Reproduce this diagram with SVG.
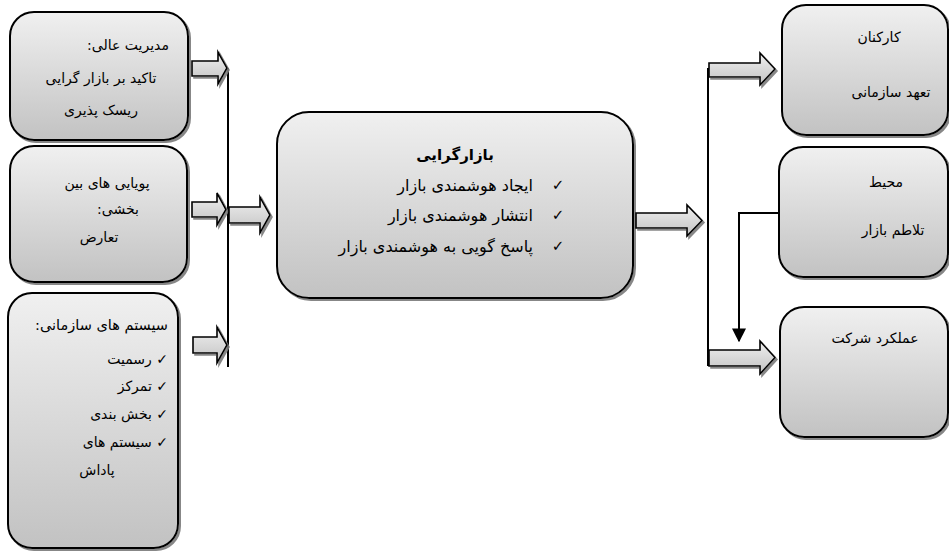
<svg xmlns="http://www.w3.org/2000/svg" width="949" height="552" viewBox="0 0 949 552">
<defs>
<linearGradient id="g" x1="0" y1="0" x2="0" y2="1">
<stop offset="0" stop-color="#f0f0f0"/>
<stop offset="1" stop-color="#c2c2c2"/>
</linearGradient>
<filter id="sh" x="-10%" y="-10%" width="130%" height="130%">
<feDropShadow dx="2" dy="2" stdDeviation="0.6" flood-color="#7a7a7a" flood-opacity="0.9"/>
</filter>
<marker id="tri" viewBox="0 0 10 10" refX="9" refY="5" markerWidth="14" markerHeight="14" markerUnits="userSpaceOnUse" orient="auto">
<path d="M0,0 L10,5 L0,10 Z" fill="#000"/>
</marker>
<style>
.box{fill:url(#g);stroke:#000;stroke-width:2;filter:url(#sh)}
.arr{fill:url(#g);stroke:#000;stroke-width:1.6;stroke-linejoin:miter;filter:url(#sh)}
.ln{fill:none;stroke:#000;stroke-width:2}
.t{font-family:"DejaVu Sans",sans-serif;font-size:14px;fill:#000}
.m{font-size:16px}
.s{font-size:14.5px}
.c{text-anchor:middle}
.r{text-anchor:start}
.b{font-weight:bold;font-size:15px}
.ck{font-family:"DejaVu Sans",sans-serif;font-size:15px;fill:#000;text-anchor:middle}
</style>
</defs>

<g id="node-top-management">
<rect class="box" x="10" y="12" width="178" height="128" rx="24"/>
<text class="t c" direction="rtl" x="128" y="50">مدیریت عالی:</text>
<text class="t c" direction="rtl" x="101" y="83">تاکید بر بازار گرایی</text>
<text class="t c" direction="rtl" x="101" y="115">ریسک پذیری</text>
</g>

<g id="node-interdepartmental">
<rect class="box" x="10" y="146" width="177" height="136" rx="24"/>
<text class="t c" direction="rtl" x="107" y="188">پویایی های بین</text>
<text class="t c" direction="rtl" x="118" y="214">بخشی:</text>
<text class="t c" direction="rtl" x="99" y="242">تعارض</text>
</g>

<g id="node-org-systems">
<rect class="box" x="8" y="293" width="170" height="255" rx="24"/>
<text class="t r s" direction="rtl" x="168" y="330">سیستم های سازمانی:</text>
<text class="t r" direction="rtl" x="168" y="364">✓ رسمیت</text>
<text class="t r" direction="rtl" x="168" y="391">✓ تمرکز</text>
<text class="t r" direction="rtl" x="168" y="419">✓ بخش بندی</text>
<text class="t r" direction="rtl" x="168" y="447">✓ سیستم های</text>
<text class="t c" direction="rtl" x="97" y="475">پاداش</text>
</g>

<g id="node-market-orientation">
<rect class="box" x="277" y="112" width="356" height="186" rx="32"/>
<text class="t c b" direction="rtl" x="455" y="160">بازارگرایی</text>
<text class="ck" x="558" y="190">✓</text>
<text class="t r m" direction="rtl" x="533" y="191">ایجاد هوشمندی بازار</text>
<text class="ck" x="558" y="220">✓</text>
<text class="t r m" direction="rtl" x="533" y="221">انتشار هوشمندی بازار</text>
<text class="ck" x="558" y="251">✓</text>
<text class="t r m" direction="rtl" x="533" y="252">پاسخ گویی به هوشمندی بازار</text>
</g>

<g id="node-employees">
<rect class="box" x="782" y="5" width="166" height="130" rx="24"/>
<text class="t c" direction="rtl" x="879" y="42">کارکنان</text>
<text class="t c" direction="rtl" x="891" y="97">تعهد سازمانی</text>
</g>

<g id="node-environment">
<rect class="box" x="779" y="147" width="169" height="130" rx="24"/>
<text class="t c" direction="rtl" x="886" y="187">محیط</text>
<text class="t c" direction="rtl" x="893" y="235">تلاطم بازار</text>
</g>

<g id="node-performance">
<rect class="box" x="780" y="307" width="168" height="130" rx="24"/>
<text class="t c" direction="rtl" x="875" y="343">عملکرد شرکت</text>
</g>

<g id="connectors">
<line class="ln" x1="228" y1="68" x2="228" y2="367"/>
<line class="ln" x1="708" y1="68" x2="708" y2="366"/>
<polyline class="ln" points="779,213 739,213 739,341" marker-end="url(#tri)"/>
<polygon class="arr" points="192,61 218,61 218,52 227,68 218,84 218,76 192,76"/>
<polygon class="arr" points="192,202 217,202 217,193 226,209.5 217,225 217,217 192,217"/>
<polygon class="arr" points="229,207 260,207 260,197 270,215 260,233 260,223 229,223"/>
<polygon class="arr" points="193,337 217,337 217,327 227,345 217,363 217,353 193,353"/>
<polygon class="arr" points="636,213 687,213 687,205 702,220.5 687,236 687,228 636,228"/>
<polygon class="arr" points="709,63 760,63 760,53 775,69 760,85 760,77 709,77"/>
<polygon class="arr" points="709,350 760,350 760,341 775,357.5 760,374 760,366 709,366"/>
</g>
</svg>
